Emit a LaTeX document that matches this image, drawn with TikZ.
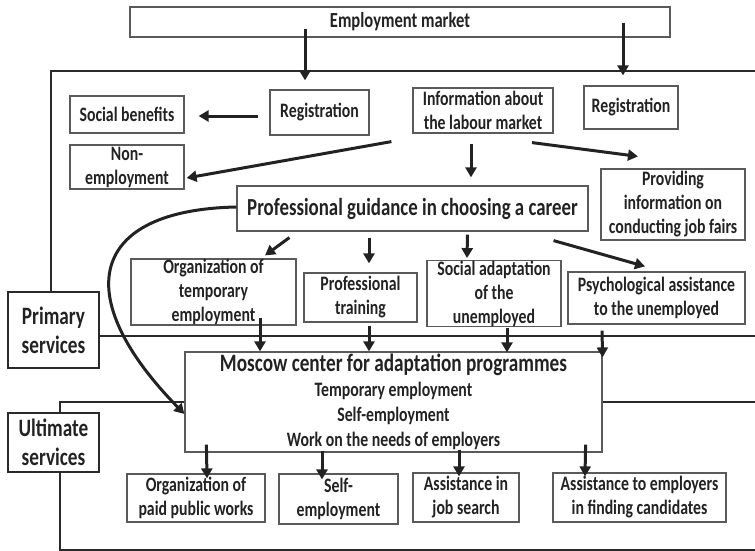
\documentclass[tikz,border=0pt]{standalone}
\usepackage{fontspec}
\setmainfont{Carlito}[FakeStretch=0.77]
\usetikzlibrary{arrows.meta,calc}
\definecolor{ink}{HTML}{222222}
\definecolor{boxline}{HTML}{5A5A5A}
\definecolor{frameline}{HTML}{2A2A2A}
\begin{document}
\begin{tikzpicture}[x=1pt,y=-1pt,
  box/.style={draw=boxline, line width=1.2pt, rectangle, inner sep=0pt,
    align=center, text=ink, font=\bfseries\fontsize{20.5}{24}\selectfont},
  area/.style={draw=frameline, line width=2.2pt, rectangle, inner sep=0pt,
    align=center, text=ink, font=\bfseries\fontsize{25}{29}\selectfont},
  frame/.style={draw=frameline, line width=2.4pt},
  arr/.style={draw=ink, line width=3pt, -{Triangle[length=10pt,width=11pt]}},
]
\useasboundingbox (0,0) rectangle (755,551);

% service areas (labels on the left)
\node[area, minimum width=91, minimum height=76] (prim) at (53.5,330) {Primary\\services};
\node[area, minimum width=91, minimum height=59] (ult) at (53.5,442.5) {Ultimate\\services};

% top: market
\node[box, minimum width=540, minimum height=30, font=\bfseries\fontsize{21.5}{24}\selectfont] (emp) at (400,22) {Employment market};

% primary services
\node[box, minimum width=114, minimum height=37] (socben) at (127,114.5) {Social benefits};
\node[box, minimum width=114, minimum height=44] (nonemp) at (127,167) {Non-\\employment};
\node[box, minimum width=99, minimum height=45] (regL) at (319.5,112.5) {Registration};
\node[box, minimum width=140, minimum height=45] (info) at (483,110.5) {Information about\\the labour market};
\node[box, minimum width=94, minimum height=43] (regR) at (631,107.5) {Registration};
\node[box, minimum width=144, minimum height=71] (fairs) at (673,204.5) {Providing\\information on\\conducting job fairs};
\node[box, minimum width=351, minimum height=45, font=\bfseries\fontsize{24.5}{28}\selectfont] (guid) at (412.5,208.5) {Professional guidance in choosing a career};
\node[box, minimum width=165, minimum height=66] (orgtemp) at (213.5,292) {Organization of\\temporary\\employment};
\node[box, minimum width=113, minimum height=49] (train) at (360.5,297.5) {Professional\\training};
\node[box, minimum width=134, minimum height=65] (socad) at (494,293.5) {Social adaptation\\of the\\unemployed};
\node[box, minimum width=177, minimum height=52] (psych) at (656.5,298) {Psychological assistance\\to the unemployed};

% adaptation centre
\node[box, minimum width=417, minimum height=100, font=\bfseries\fontsize{20.5}{25}\selectfont] (mos) at (393.5,402)
  {{\fontsize{25}{27}\selectfont Moscow center for adaptation programmes}\\Temporary employment\\Self-employment\\Work on the needs of employers};

% ultimate services
\node[box, minimum width=138, minimum height=48] (paid) at (196,498) {Organization of\\paid public works};
\node[box, minimum width=119, minimum height=50] (selfemp) at (338.5,499) {Self-\\employment};
\node[box, minimum width=106, minimum height=49] (jobs) at (466,497.5) {Assistance in\\job search};
\node[box, minimum width=173, minimum height=49] (emps) at (639.5,497.5) {Assistance to employers\\in finding candidates};

% area frames
\draw[frame] (prim.north -| 51,0) -- (51,71) -- (755,71);
\draw[frame] ($(prim.east)+(0,6)$) -- (755,336);
\draw[frame] (ult.north -| 60,0) -- (60,402) -- (mos.west |- 0,402);
\draw[frame] (mos.east |- 0,402) -- (755,402);
\draw[frame] (ult.south -| 60,0) -- (60,550) -- (755,550);

% connectors
\draw[arr] ($(emp.center)+(-95,7)$) -- ($(regL.north)+(-14.5,-9)$);
\draw[arr] ($(emp.center)+(223,1)$) -- ($(regR.north)+(-8,-10)$);
\draw[arr] ($(regL.west)+(-11,3.5)$) -- ($(socben.east)+(14,1.5)$);
\draw[arr] ($(info.south west)+(-21,8)$) -- ($(nonemp.east)+(2,11)$);
\draw[arr] ($(info.south)+(-12,10)$) -- ($(guid.north)+(58.5,-8)$);
\draw[arr] ($(info.south)+(49,9)$) -- ($(fairs.north)+(-35,-12)$);
\draw[arr] ($(guid.south west)+(53,6)$) -- ($(orgtemp.north)+(51.5,-3)$);
\draw[arr] ($(guid.south)+(-43.5,6)$) -- ($(train.north)+(8.5,-9)$);
\draw[arr] ($(guid.south)+(55,3)$) -- ($(socad.north)+(-27,-2)$);
\draw[arr] ($(guid.south east)+(-35,9)$) -- ($(psych.north)+(-11.5,-5)$);
\draw[arr] ($(guid.west)+(0,-1.5)$) .. controls (90,210) and (68,295) .. ($(mos.west)+(0,12)$);
\draw[arr] ($(orgtemp.south)+(46.5,-8)$) -- ($(mos.north)+(-133.5,0)$);
\draw[arr] ($(train.south)+(8.5,3)$) -- ($(mos.north)+(-24.5,0)$);
\draw[arr] ($(socad.south)+(13,1)$) -- ($(mos.north)+(113.5,1)$);
\draw[arr] ($(psych.south)+(-54.5,6)$) -- ($(mos.north east)+(0,6)$);
\draw[arr] ($(mos.south west)+(22,-8)$) -- ($(paid.north)+(11,5)$);
\draw[arr] ($(mos.south)+(-71.5,-2)$) -- ($(selfemp.north)+(-16.5,6)$);
\draw[arr] ($(mos.south)+(65.5,-3)$) -- ($(jobs.north)+(-7,4)$);
\draw[arr] ($(mos.south east)+(-17,-8)$) -- ($(emps.north)+(-54.5,4)$);
\end{tikzpicture}
\end{document}
